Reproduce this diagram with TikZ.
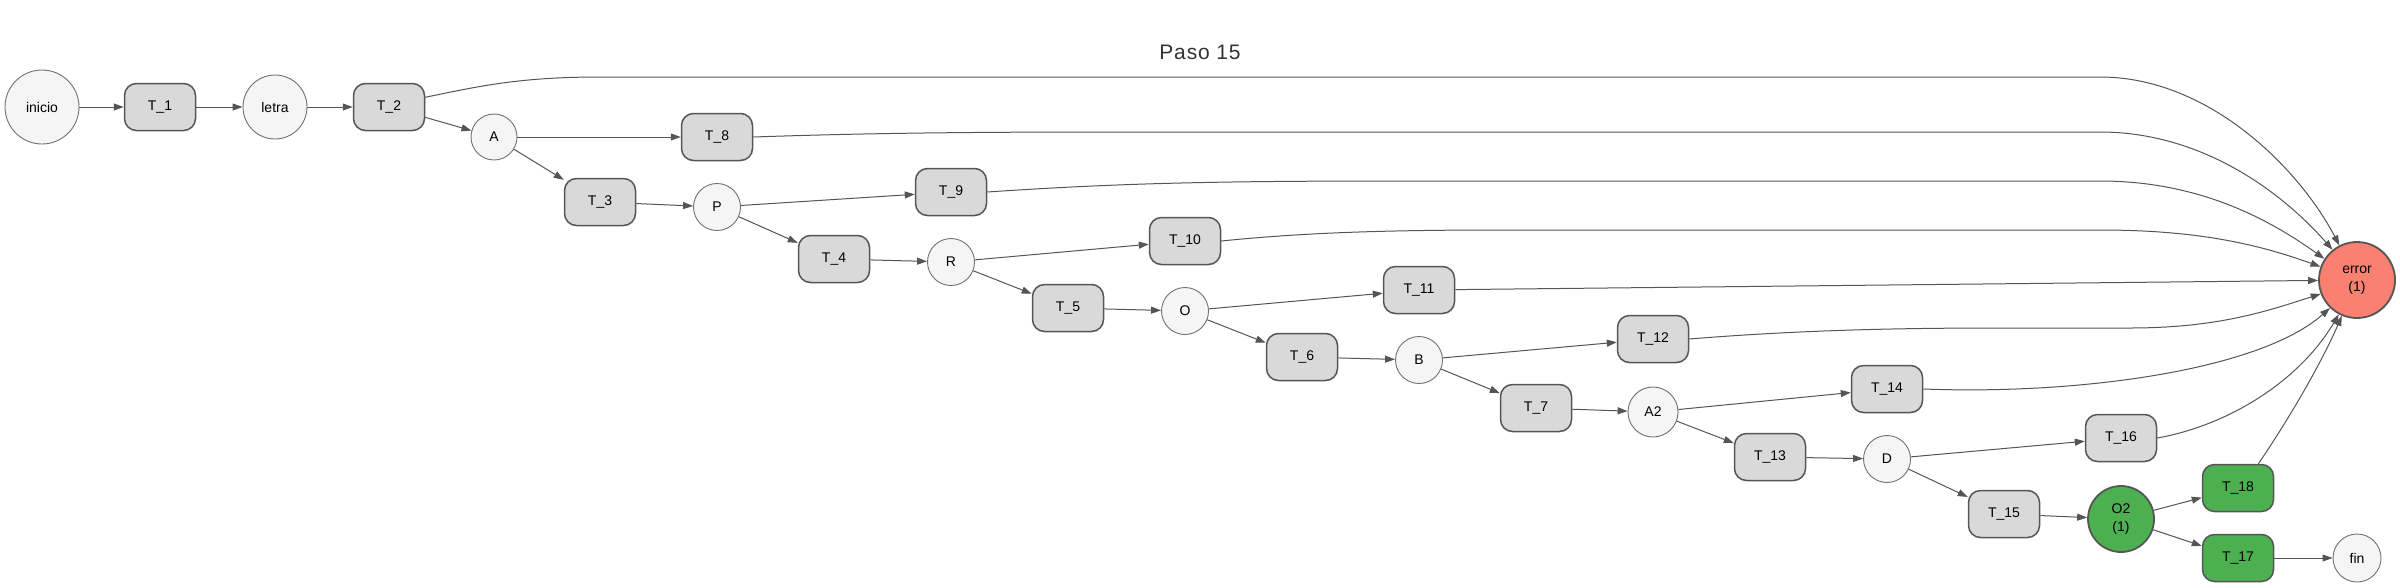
\documentclass[tikz,border=0pt]{standalone}
\usepackage{fontspec}
\setmainfont{Liberation Sans}
\newfontfamily\titlefont[LetterSpace=4]{Liberation Sans}
\usetikzlibrary{arrows.meta}
\definecolor{circfill}{HTML}{F5F5F5}
\definecolor{boxfill}{HTML}{D9D9D9}
\definecolor{errfill}{HTML}{FA8072}
\definecolor{okfill}{HTML}{4CAF50}
\definecolor{edgecol}{HTML}{555555}
\definecolor{circline}{HTML}{707070}
\definecolor{titlecol}{HTML}{333333}
\tikzset{
  lbl/.style={font=\fontsize{14}{18}\selectfont, text=black},
  circ/.style={circle, lbl, draw=circline, line width=0.9pt, fill=circfill, inner sep=0pt},
  tbox/.style={rectangle, lbl, rounded corners=12pt, draw=edgecol, line width=1.5pt, fill=boxfill, minimum width=71pt, minimum height=47pt, inner sep=0pt},
  okbox/.style={tbox, fill=okfill},
  errnode/.style={circle, lbl, draw=edgecol, line width=1.8pt, fill=errfill, inner sep=0pt, align=center, minimum size=76pt},
  oknode/.style={circle, lbl, draw=edgecol, line width=1.8pt, fill=okfill, inner sep=0pt, align=center, minimum size=66pt},
  edge/.style={draw=edgecol, line width=1pt, -{Triangle[length=10pt,width=7pt]}},
}
\begin{document}
\begin{tikzpicture}[x=1pt,y=-1pt]
\useasboundingbox (0,0) rectangle (2400,587);
\node[font=\titlefont\fontsize{21}{25}\selectfont, text=titlecol] (title) at (1200,52) {Paso 15};
% nodes
\node[circ, minimum size=74pt] (inicio) at (42,107) {inicio};
\node[tbox] (T1) at (160,107) {T\_1};
\node[circ, minimum size=64pt] (letra) at (275,107) {letra};
\node[tbox] (T2) at (389,107) {T\_2};
\node[circ, minimum size=46pt] (A) at (494,137) {A};
\node[tbox] (T8) at (717,137) {T\_8};
\node[tbox] (T3) at (600,202) {T\_3};
\node[circ, minimum size=47pt] (P) at (717,207) {P};
\node[tbox] (T9) at (951,192) {T\_9};
\node[tbox] (T4) at (834,259) {T\_4};
\node[circ, minimum size=47pt] (R) at (951,262) {R};
\node[tbox] (T10) at (1185,241) {T\_10};
\node[tbox] (T5) at (1068,308) {T\_5};
\node[circ, minimum size=47pt] (O) at (1185,311) {O};
\node[tbox] (T11) at (1419,290) {T\_11};
\node[tbox] (T6) at (1302,357) {T\_6};
\node[circ, minimum size=47pt] (B) at (1419,360) {B};
\node[tbox] (T12) at (1653,339) {T\_12};
\node[tbox] (T7) at (1536,408) {T\_7};
\node[circ, minimum size=50pt] (A2) at (1653,412) {A2};
\node[tbox] (T14) at (1887,389) {T\_14};
\node[tbox] (T13) at (1770,457) {T\_13};
\node[circ, minimum size=47pt] (D) at (1887,459) {D};
\node[tbox] (T15) at (2004,514) {T\_15};
\node[tbox] (T16) at (2121,438) {T\_16};
\node[oknode] (O2) at (2121,519) {O2\\(1)};
\node[okbox] (T18) at (2238,488) {T\_18};
\node[okbox] (T17) at (2238,558) {T\_17};
\node[circ, minimum size=48pt] (fin) at (2357,558) {fin};
\node[errnode] (error) at (2357,280) {error\\(1)};
% straight edges
\draw[edge] (inicio) -- (T1);
\draw[edge] (T1) -- (letra);
\draw[edge] (letra) -- (T2);
\draw[edge] (T2) -- (A);
\draw[edge] (A) -- (T8);
\draw[edge] (A) -- (T3);
\draw[edge] (T3) -- (P);
\draw[edge] (P) -- (T9);
\draw[edge] (P) -- (T4);
\draw[edge] (T4) -- (R);
\draw[edge] (R) -- (T10);
\draw[edge] (R) -- (T5);
\draw[edge] (T5) -- (O);
\draw[edge] (O) -- (T11);
\draw[edge] (O) -- (T6);
\draw[edge] (T6) -- (B);
\draw[edge] (B) -- (T12);
\draw[edge] (B) -- (T7);
\draw[edge] (T7) -- (A2);
\draw[edge] (A2) -- (T14);
\draw[edge] (A2) -- (T13);
\draw[edge] (T13) -- (D);
\draw[edge] (D) -- (T16);
\draw[edge] (D) -- (T15);
\draw[edge] (T15) -- (O2);
\draw[edge] (O2) -- (T18);
\draw[edge] (O2) -- (T17);
\draw[edge] (T17) -- (fin);
% curved edges into error
\draw[edge] (T2.15) .. controls (480,86) and (520,77) .. (600,77) -- (2100,77) .. controls (2210,77) and (2300,170) .. (error.117);
\draw[edge] (T8.east) .. controls (870,133) and (970,132) .. (1120,132) -- (2100,132) .. controls (2200,132) and (2280,190) .. (error.129);
\draw[edge] (T9.east) .. controls (1120,183) and (1220,181) .. (1400,181) -- (2100,181) .. controls (2200,181) and (2270,220) .. (error.147);
\draw[edge] (T10.east) .. controls (1300,233) and (1380,230) .. (1500,230) -- (2100,230) .. controls (2200,230) and (2260,245) .. (error.160);
\draw[edge] (T11) -- (error);
\draw[edge] (T12.east) .. controls (1800,330) and (1900,328) .. (2000,328) -- (2130,328) .. controls (2220,328) and (2270,310) .. (error.201);
\draw[edge] (T14.east) .. controls (2080,395) and (2260,370) .. (error.226);
\draw[edge] (T16.east) .. controls (2230,425) and (2300,380) .. (error.242);
\draw[edge] (T18.50) .. controls (2295,410) and (2325,355) .. (error.247);
\end{tikzpicture}
\end{document}
